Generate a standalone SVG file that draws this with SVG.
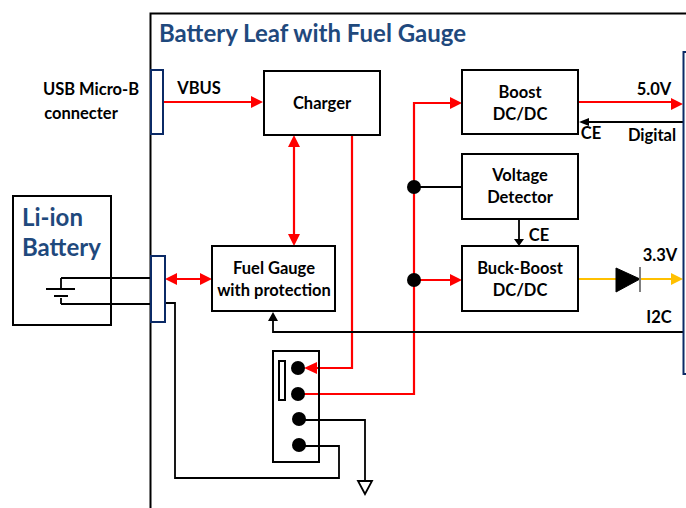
<svg xmlns="http://www.w3.org/2000/svg" width="686" height="508" viewBox="0 0 686 508">
<style>
text{font-family:Lato,Carlito,"Open Sans",sans-serif;font-weight:700;fill:#000}
.l{font-size:16.500px;text-anchor:middle}
.t{fill:#1f497d}
.b{fill:#fff;stroke:#000;stroke-width:2}
.p{fill:#fff;stroke:#0b2a66;stroke-width:2}
.k{fill:none;stroke:#000;stroke-width:1.800}
.r{fill:none;stroke:#f00;stroke-width:2.200}
.y{fill:none;stroke:#ffc000;stroke-width:2.200}
.rf{fill:#f00}.yf{fill:#ffc000}
</style>
<rect width="686" height="508" fill="#fff"/>
<g id="frame"><path d="M150.500 508V13.500H686" fill="none" stroke="#000" stroke-width="2"/>
<text x="159" y="42" font-size="24" class="t">Battery Leaf with Fuel Gauge</text></g>
<g id="connectors">
<path class="k" d="M61 278H151M61 304H151M61 278V288M61 298V304M46 289H75M54 296H68"/>
<path class="k" d="M165 303H175V478H339V446H299M299 420H365V482"/>
<path d="M358 481H372L365 494Z" fill="#fff" stroke="#000" stroke-width="1.800"/>
<path class="r" d="M164 102H252M352 135V368H312M298 394H414V103H452M167 279H201M294 146V235M414 280H452M578 102H672"/>
<path class="rf" d="M263 102L251 96V108ZM304 368L317 362V374ZM462 103L450 97V109ZM165 279L177 273V285ZM212 279L200 273V285ZM294 135L288 147H300ZM294 246L288 234H300ZM683 104L671 98V110ZM462 280L450 274V286Z"/>
<path class="k" d="M462 187H414M683 122H588M519 219V240M683 332H273V320"/>
<path d="M579 122L589 118V126ZM519 246L514 239H524ZM273 312L268 321H278Z"/>
<circle cx="414" cy="187" r="7"/><circle cx="414" cy="280" r="7"/>
<path class="y" d="M578 279H672"/>
<path class="yf" d="M683 279L671 273V285Z"/>
<path d="M616 268L640 279L616 292Z" stroke="#000"/>
<path d="M640 267V292" stroke="#7f7f7f" stroke-width="2"/>
</g>
<g id="usb"><rect class="p" x="151" y="70" width="12" height="64"/><text class="l" x="91" y="95">USB Micro-B</text><text class="l" x="81" y="119">connecter</text><text class="l" x="199" y="94">VBUS</text></g>
<g id="battery"><rect class="b" x="13" y="196" width="98" height="129" style="fill:none"/><text x="22" y="226" font-size="24" class="t">Li-ion</text><text x="22" y="256" font-size="24" class="t">Battery</text></g>
<g id="batt-conn"><rect class="p" x="151" y="256" width="14" height="66"/></g>
<g id="charger"><rect class="b" x="264" y="71" width="116" height="64"/><text class="l" x="322" y="109">Charger</text></g>
<g id="fuel-gauge"><rect class="b" x="212" y="246" width="123" height="65"/><text class="l" x="274" y="274">Fuel Gauge</text><text class="l" x="274" y="296">with protection</text></g>
<g id="boost"><rect class="b" x="462" y="70" width="116" height="64"/><text class="l" x="520" y="98">Boost</text><text class="l" x="520" y="120">DC/DC</text></g>
<g id="detector"><rect class="b" x="462" y="154" width="116" height="65"/><text class="l" x="520" y="181">Voltage</text><text class="l" x="520" y="203">Detector</text></g>
<g id="buck-boost"><rect class="b" x="462" y="246" width="116" height="65"/><text class="l" x="520" y="274">Buck-Boost</text><text class="l" x="520" y="296">DC/DC</text></g>
<g id="switch"><rect class="b" x="273" y="351" width="46" height="111" style="fill:none"/><rect class="b" x="279" y="361" width="6" height="39"/><circle cx="298" cy="368" r="7"/><circle cx="298" cy="394" r="7"/><circle cx="299" cy="419" r="7"/><circle cx="299" cy="445" r="7"/></g>
<g id="mcu"><path d="M686 52H683.500V374H686" fill="none" stroke="#0b2a66" stroke-width="2"/></g>
<g id="labels"><text class="l" x="654" y="95">5.0V</text><text class="l" x="591" y="139">CE</text><text class="l" x="652" y="141">Digital</text><text class="l" x="539" y="241">CE</text><text class="l" x="660" y="261">3.3V</text><text class="l" x="659" y="323">I2C</text></g>
</svg>
